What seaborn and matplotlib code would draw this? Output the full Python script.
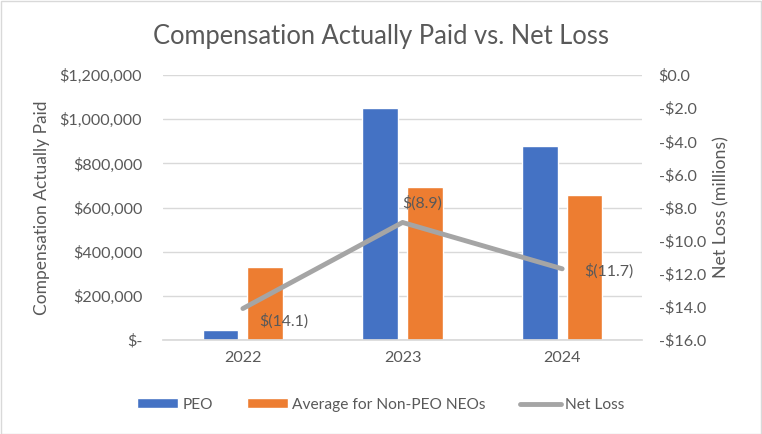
import matplotlib
matplotlib.use("Agg")
import matplotlib.pyplot as plt
import seaborn as sns
import pandas as pd
from matplotlib.ticker import FuncFormatter, MultipleLocator
from matplotlib.patches import Rectangle
from matplotlib.lines import Line2D
from matplotlib.patches import Patch

years = ["2022", "2023", "2024"]
peo = [45000, 1052000, 878000]
non_peo = [330000, 693000, 657000]
net_loss = [-14.1, -8.9, -11.7]
net_loss_labels = ["$(14.1)", "$(8.9)", "$(11.7)"]
series_names = ["PEO", "Average for Non-PEO NEOs"]

BLUE = "#4472C4"
ORANGE = "#ED7D31"
GRAY = "#A5A5A5"
TXT = "#595959"

sns.set_theme(style="white")
plt.rcParams["font.family"] = ["Lato", "DejaVu Sans"]

df = pd.DataFrame({
    "Year": years * 2,
    "Value": peo + non_peo,
    "Series": [series_names[0]] * 3 + [series_names[1]] * 3,
})

fig = plt.figure(figsize=(7.62, 4.34), dpi=100)
ax = fig.add_axes([0.214, 0.2166, 0.6285, 0.6104])

sns.barplot(data=df, x="Year", y="Value", hue="Series", order=years,
            hue_order=series_names, palette=[BLUE, ORANGE], width=0.56, gap=0.2,
            saturation=1, ax=ax, legend=False, errorbar=None)

ax.set_xlim(-0.5, 2.5)
ax.set_ylim(0, 1200000)
ax.yaxis.set_major_locator(MultipleLocator(200000))
ax.yaxis.set_major_formatter(FuncFormatter(lambda v, p: "$-" if v == 0 else f"${v:,.0f}"))
ax.grid(axis="y", color="#D9D9D9", linewidth=1)
ax.set_axisbelow(True)
for s in ax.spines.values():
    s.set_visible(False)
ax.spines["bottom"].set_visible(True)
ax.spines["bottom"].set_color("#D9D9D9")
ax.tick_params(axis="y", length=0, labelsize=11.6, labelcolor=TXT, pad=15)
ax.tick_params(axis="x", length=0, labelsize=11.6, labelcolor=TXT, pad=8)
ax.set_xlabel("")
ax.set_ylabel("Compensation Actually Paid", fontsize=12.5, color=TXT, labelpad=7)

ax2 = ax.twinx()
xs = list(range(len(years)))
sns.lineplot(x=xs, y=net_loss, ax=ax2, color=GRAY, linewidth=3.5, legend=False)
ax2.set_ylim(-16, 0)
ax2.yaxis.set_major_locator(MultipleLocator(2))
ax2.yaxis.set_major_formatter(FuncFormatter(lambda v, p: "$0.0" if v == 0 else f"-${abs(v):.1f}"))
ax2.tick_params(axis="y", length=0, labelsize=11.6, labelcolor=TXT, pad=12)
for s in ax2.spines.values():
    s.set_visible(False)
ax2.set_ylabel("Net Loss (millions)", fontsize=12.8, color=TXT, labelpad=5)

offsets = [(12, -9), (0, 14), (16, -2)]
for x, y, lab, (dx, dy) in zip(xs, net_loss, net_loss_labels, offsets):
    ax2.annotate(lab, (x, y), xytext=(dx, dy), textcoords="offset points",
                 ha="left", va="center", fontsize=11.4, color=TXT)

fig.suptitle("Compensation Actually Paid vs. Net Loss", x=0.5, y=0.945,
             fontsize=18.4, color=TXT)

handles = [Patch(facecolor=BLUE), Patch(facecolor=ORANGE),
           Line2D([0], [0], color=GRAY, linewidth=3.5)]
fig.legend(handles, series_names + ["Net Loss"], loc="center", bbox_to_anchor=(0.5, 0.067),
           ncol=3, frameon=False, fontsize=11.2, labelcolor=TXT, handlelength=2.6,
           handleheight=0.6, columnspacing=2.2, handletextpad=0.3)

fig.patches.append(Rectangle((0.001, 0.001), 0.998, 0.997, transform=fig.transFigure,
                             fill=False, edgecolor="#D9D9D9", linewidth=1))

fig.savefig("out.png", dpi=100)
